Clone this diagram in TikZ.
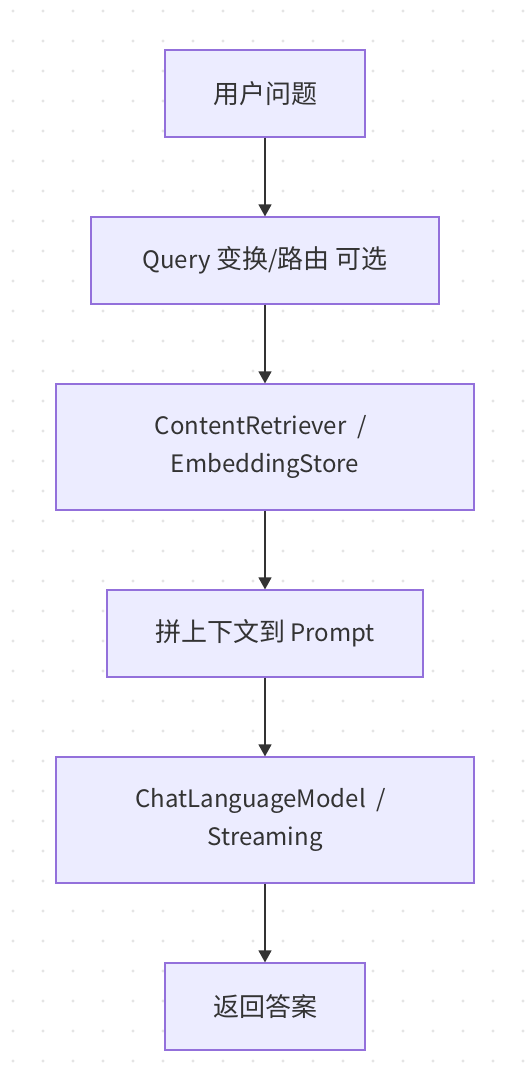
\documentclass[tikz,border=0pt]{standalone}
\usepackage{fontspec}
\setmainfont{Noto Sans CJK SC}
\usetikzlibrary{arrows.meta}
\definecolor{boxfill}{HTML}{ECECFF}
\definecolor{boxline}{HTML}{9370DB}
\definecolor{ink}{HTML}{333333}
\definecolor{dotc}{HTML}{E4E4E4}
\newcommand\zhtext[1]{{\fontsize{26bp}{38bp}\selectfont #1}}
\tikzset{
  flowbox/.style={draw=boxline, fill=boxfill, line width=1.2bp, rectangle, inner sep=0pt,
    text=ink, align=center, font=\fontsize{24bp}{38bp}\selectfont},
  flowarrow/.style={draw=ink, line width=1.3bp, -{Triangle[length=12bp,width=13bp]}}
}
\begin{document}
\begin{tikzpicture}[x=1bp,y=-1bp]
\useasboundingbox (0,0) rectangle (530,1075);
\fill[white] (0,0) rectangle (530,1075);
\foreach \i in {0,...,17}{
  \foreach \j in {0,...,35}{
    \fill[dotc] ({13+30*\i},{11+30*\j}) circle[radius=1.6bp];
  }
}
\node[flowbox, minimum width=200bp, minimum height=87bp] (n1) at (265,93.5) {\zhtext{用户问题}};
\node[flowbox, minimum width=348bp, minimum height=87bp] (n2) at (265,260.5) {Query \zhtext{变换}/\zhtext{路由 可选}};
\node[flowbox, minimum width=418bp, minimum height=126bp] (n3) at (265,447) {ContentRetriever\hspace{0.45em}/\rule{0.35em}{0pt}\\ EmbeddingStore};
\node[flowbox, minimum width=316bp, minimum height=87bp] (n4) at (265,633.5) {\zhtext{拼上下文到} Prompt};
\node[flowbox, minimum width=418bp, minimum height=126bp] (n5) at (265,820) {ChatLanguageModel\hspace{0.45em}/\rule{0.35em}{0pt}\\ Streaming};
\node[flowbox, minimum width=200bp, minimum height=87bp] (n6) at (265,1006.5) {\zhtext{返回答案}};
\draw[flowarrow] (n1.south) -- (n2.north);
\draw[flowarrow] (n2.south) -- (n3.north);
\draw[flowarrow] (n3.south) -- (n4.north);
\draw[flowarrow] (n4.south) -- (n5.north);
\draw[flowarrow] (n5.south) -- (n6.north);
\end{tikzpicture}
\end{document}
